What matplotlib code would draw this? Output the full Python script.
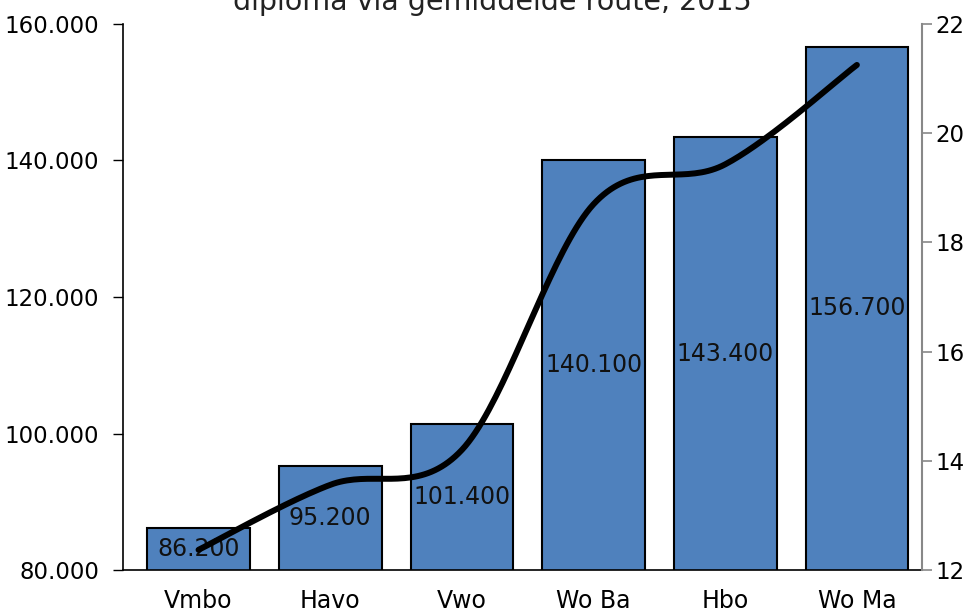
import numpy as np
import matplotlib
matplotlib.use("Agg")
import matplotlib.pyplot as plt

categorieen = ['Vmbo', 'Havo', 'Vwo', 'Wo Ba', 'Hbo', 'Wo Ma']
bedragen = [86200, 95200, 101400, 140100, 143400, 156700]
lijn_waarden = [12.37, 13.56, 14.20, 18.70, 19.43, 21.25]
labels = ['86.200', '95.200', '101.400', '140.100', '143.400', '156.700']

plt.rcParams['font.family'] = ['DejaVu Sans']


def gladde_lijn(x, y, n=40):
    # Excel-achtige gladde lijn (Catmull-Rom) door de punten
    x = np.asarray(x, float)
    y = np.asarray(y, float)
    px = np.concatenate([[x[0]], x, [x[-1]]])
    py = np.concatenate([[y[0]], y, [y[-1]]])
    xs, ys = [], []
    for i in range(1, len(px) - 2):
        p0, p1, p2, p3 = px[i-1], px[i], px[i+1], px[i+2]
        q0, q1, q2, q3 = py[i-1], py[i], py[i+1], py[i+2]
        t = np.linspace(0, 1, n)
        b0 = (1 - t) ** 3
        b1 = 3 * t * (1 - t) ** 2
        b2 = 3 * t ** 2 * (1 - t)
        b3 = t ** 3
        c1x, c1y = p1 + (p2 - p0) / 6, q1 + (q2 - q0) / 6
        c2x, c2y = p2 - (p3 - p1) / 6, q2 - (q3 - q1) / 6
        xs.append(b0 * p1 + b1 * c1x + b2 * c2x + b3 * p2)
        ys.append(b0 * q1 + b1 * c1y + b2 * c2y + b3 * q2)
    return np.concatenate(xs), np.concatenate(ys)


fig = plt.figure(figsize=(9.76, 6.12), dpi=100)
ax = fig.add_axes([0.126, 0.0686, 0.8186, 0.8922])

x = np.arange(len(categorieen))
ax.bar(x, bedragen, width=0.78, color='#4F81BD', edgecolor='black', linewidth=1.5, zorder=2)
for xi, b, lab in zip(x, bedragen, labels):
    ax.text(xi, (80000 + b) / 2, lab, ha='center', va='center', fontsize=17, color='#111111', zorder=3)

ax.set_ylim(80000, 160000)
ax.set_xlim(-0.574, 5.494)
ax.set_yticks([80000, 100000, 120000, 140000, 160000])
ax.set_yticklabels(['80.000', '100.000', '120.000', '140.000', '160.000'])
ax.set_xticks(x)
ax.set_xticklabels(categorieen)
ax.tick_params(axis='y', labelsize=16.5, length=7, width=1, direction='out', pad=10)
ax.tick_params(axis='x', labelsize=17, length=0, pad=14)
for s in ['top', 'right']:
    ax.spines[s].set_visible(False)
ax.spines['left'].set_linewidth(1.2)
ax.spines['bottom'].set_linewidth(1.2)

ax2 = ax.twinx()
ax2.set_ylim(12, 22)
ax2.set_yticks([12, 14, 16, 18, 20, 22])
ax2.tick_params(axis='y', labelsize=16.5, length=7, width=1.2, color='#888888', pad=3)
for s in ['top', 'left', 'bottom']:
    ax2.spines[s].set_visible(False)
ax2.spines['right'].set_color('#888888')
ax2.spines['right'].set_linewidth(1.5)

lx, ly = gladde_lijn(x, lijn_waarden)
ax2.plot(lx, ly, color='black', linewidth=4.3, solid_capstyle='round', zorder=4)

fig.text(0.504, 1 - 10 / 612, 'diploma via gemiddelde route, 2015', ha='center', va='baseline',
         fontsize=20.5, color='#222222')

fig.savefig('out.png', dpi=100)
